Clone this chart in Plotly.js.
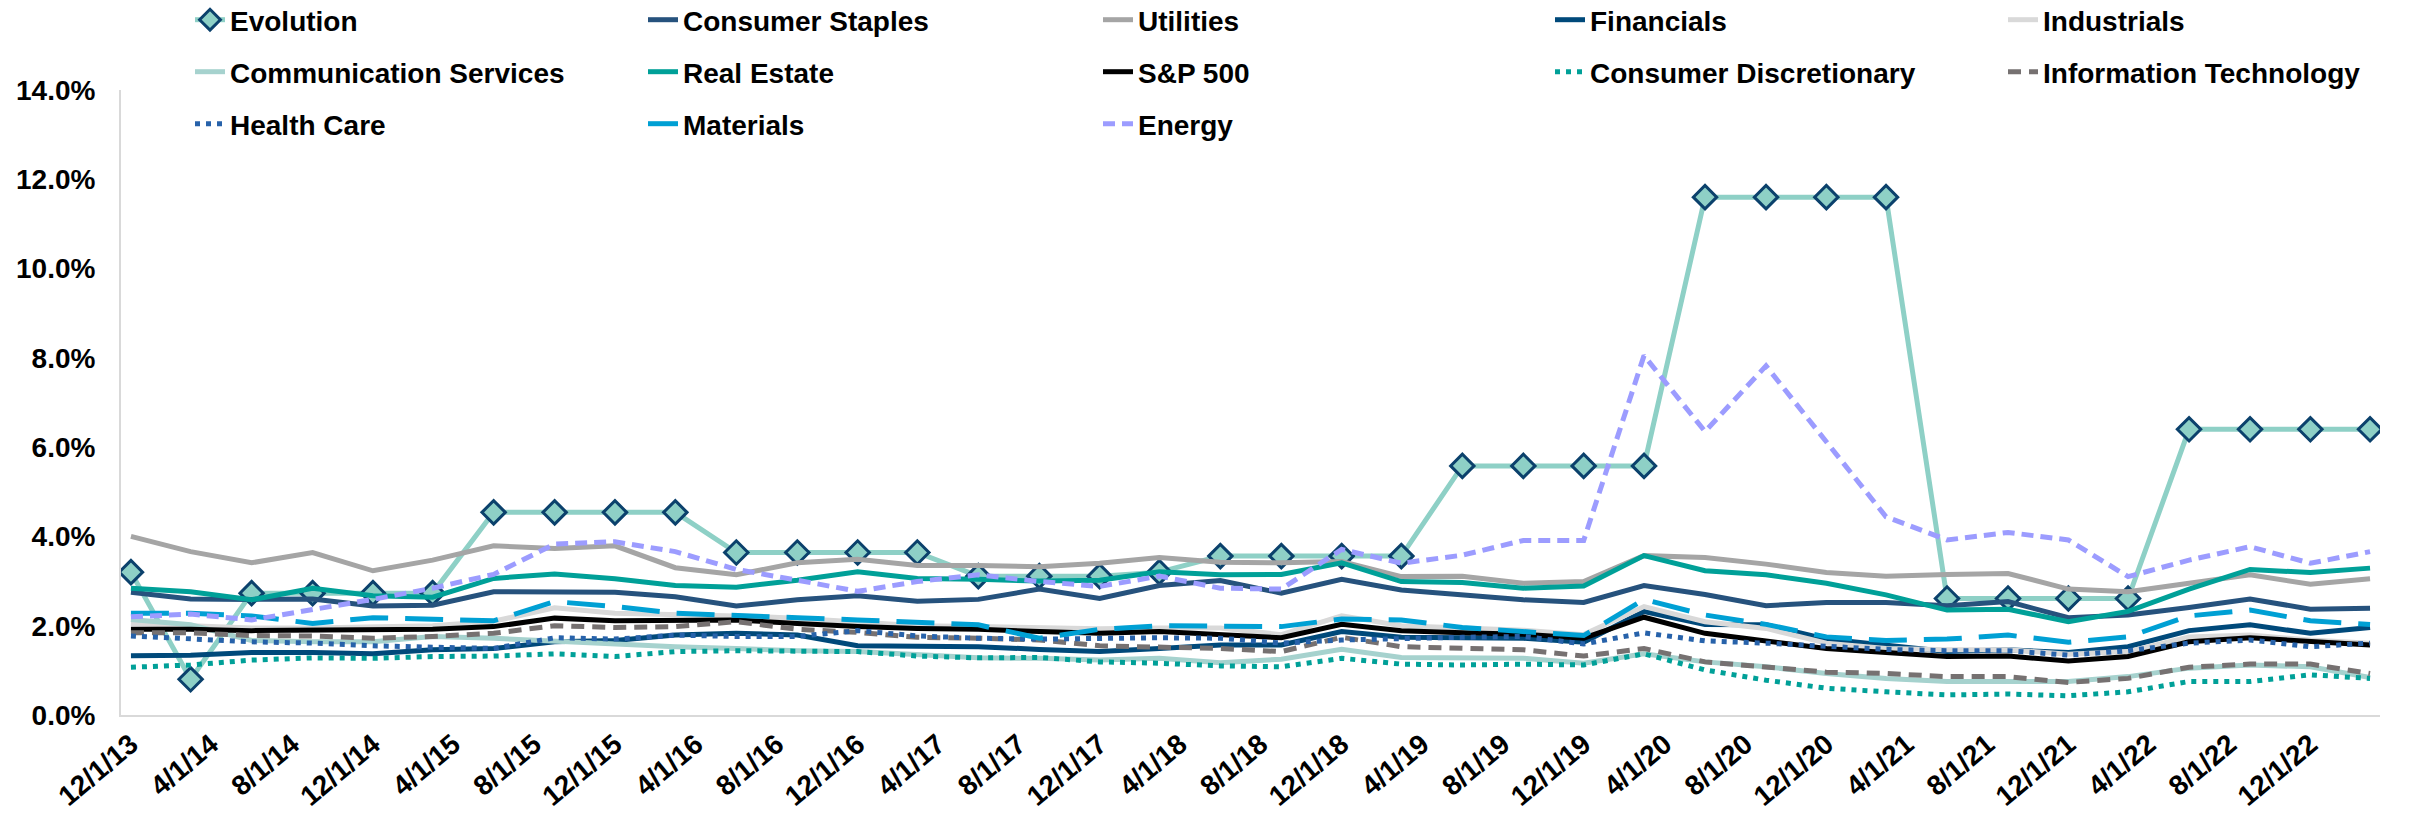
<!DOCTYPE html>
<html>
<head>
<meta charset="utf-8">
<script src="https://cdn.plot.ly/plotly-3.0.1.min.js"></script>
<style>html,body{margin:0;padding:0;background:#fff;}#chart{width:2410px;height:814px;}</style>
</head>
<body>
<div id="chart"></div>
<script>
// Quarterly observation dates
const dates = ['2013-12-01','2014-03-01','2014-06-01','2014-09-01','2014-12-01','2015-03-01','2015-06-01','2015-09-01','2015-12-01','2016-03-01','2016-06-01','2016-09-01','2016-12-01','2017-03-01','2017-06-01','2017-09-01','2017-12-01','2018-03-01','2018-06-01','2018-09-01','2018-12-01','2019-03-01','2019-06-01','2019-09-01','2019-12-01','2020-03-01','2020-06-01','2020-09-01','2020-12-01','2021-03-01','2021-06-01','2021-09-01','2021-12-01','2022-03-01','2022-06-01','2022-09-01','2022-12-01','2023-03-01'];

// Values in percent
const evolution = [3.2,0.8,2.73,2.73,2.73,2.73,4.54,4.54,4.54,4.54,3.64,3.64,3.64,3.64,3.11,3.11,3.11,3.2,3.56,3.56,3.56,3.56,5.58,5.58,5.58,5.58,11.6,11.6,11.6,11.6,2.61,2.61,2.61,2.61,6.4,6.4,6.4,6.4];
const consumerStaples = [2.75,2.60,2.59,2.60,2.44,2.46,2.76,2.76,2.75,2.65,2.44,2.58,2.67,2.55,2.59,2.82,2.61,2.90,3.01,2.73,3.04,2.80,2.69,2.58,2.52,2.90,2.70,2.45,2.52,2.52,2.45,2.54,2.18,2.24,2.41,2.60,2.37,2.39];
const utilities = [4.00,3.66,3.41,3.64,3.23,3.47,3.79,3.73,3.79,3.30,3.14,3.41,3.49,3.35,3.35,3.32,3.40,3.53,3.42,3.41,3.44,3.10,3.11,2.95,2.99,3.57,3.53,3.38,3.19,3.11,3.15,3.17,2.82,2.76,2.95,3.14,2.93,3.05];
const financials = [1.33,1.34,1.40,1.40,1.37,1.46,1.49,1.64,1.67,1.79,1.83,1.79,1.55,1.53,1.53,1.47,1.42,1.49,1.57,1.57,1.87,1.74,1.74,1.72,1.63,2.32,2.03,2.02,1.70,1.55,1.42,1.46,1.40,1.53,1.89,2.02,1.83,1.96];
const industrials = [2.05,2.00,1.95,1.95,1.98,2.00,2.10,2.40,2.28,2.26,2.22,2.17,2.09,2.00,1.98,1.95,1.93,1.95,1.95,1.80,2.22,2.00,1.95,1.90,1.80,2.43,2.09,1.94,1.61,1.49,1.46,1.46,1.36,1.42,1.75,1.79,1.68,1.61];
const communicationServices = [2.14,2.02,1.67,1.64,1.64,1.76,1.72,1.66,1.58,1.53,1.49,1.44,1.42,1.34,1.28,1.27,1.23,1.27,1.17,1.25,1.47,1.29,1.27,1.27,1.16,1.37,1.19,1.08,0.93,0.82,0.75,0.75,0.75,0.86,1.05,1.12,1.08,0.84];
const realEstate = [2.84,2.76,2.58,2.84,2.67,2.64,3.06,3.16,3.05,2.90,2.86,3.02,3.21,3.06,3.04,3.00,3.02,3.21,3.14,3.15,3.41,2.99,2.97,2.84,2.89,3.57,3.23,3.14,2.95,2.69,2.35,2.37,2.09,2.32,2.82,3.26,3.19,3.29];
const sp500 = [1.92,1.92,1.89,1.90,1.89,1.92,1.98,2.17,2.11,2.13,2.13,2.05,1.98,1.94,1.92,1.87,1.83,1.87,1.81,1.73,2.03,1.89,1.84,1.81,1.72,2.19,1.83,1.67,1.49,1.40,1.31,1.32,1.21,1.31,1.64,1.73,1.64,1.57];
const consumerDiscretionary = [1.07,1.12,1.23,1.28,1.27,1.31,1.32,1.37,1.31,1.42,1.44,1.42,1.42,1.32,1.28,1.29,1.19,1.16,1.10,1.08,1.27,1.14,1.12,1.14,1.12,1.37,1.01,0.78,0.60,0.52,0.45,0.47,0.43,0.52,0.75,0.75,0.90,0.82];
const informationTechnology = [1.84,1.84,1.78,1.77,1.72,1.76,1.83,2.00,1.96,1.98,2.09,1.92,1.85,1.74,1.72,1.68,1.55,1.53,1.49,1.42,1.74,1.53,1.49,1.46,1.32,1.49,1.19,1.07,0.96,0.93,0.86,0.86,0.73,0.82,1.07,1.14,1.14,0.93];
const healthCare = [1.77,1.70,1.64,1.61,1.55,1.52,1.49,1.73,1.70,1.79,1.76,1.76,1.89,1.77,1.72,1.70,1.72,1.73,1.72,1.61,1.68,1.72,1.74,1.76,1.59,1.84,1.66,1.61,1.53,1.47,1.44,1.44,1.34,1.44,1.61,1.68,1.53,1.61];
const materials = [2.28,2.28,2.22,2.05,2.18,2.14,2.11,2.54,2.43,2.28,2.24,2.18,2.13,2.07,2.02,1.72,1.92,2.00,1.98,1.98,2.15,2.13,1.96,1.88,1.78,2.59,2.24,2.03,1.75,1.67,1.70,1.79,1.63,1.75,2.22,2.35,2.11,2.03];
const energy = [2.20,2.26,2.13,2.35,2.59,2.84,3.15,3.83,3.88,3.66,3.26,3.02,2.77,2.99,3.14,2.99,2.88,3.11,2.84,2.82,3.71,3.40,3.58,3.91,3.91,8.05,6.35,7.82,6.10,4.44,3.92,4.09,3.92,3.10,3.47,3.77,3.40,3.66];

const yTickVals = [0,2,4,6,8,10,12,14];
const yTickText = ['0.0%','2.0%','4.0%','6.0%','8.0%','10.0%','12.0%','14.0%'];

const FONT = 'Liberation Sans, Arial, sans-serif';
const LW = 5;

// plot-area geometry (pixels) used to place the legend grid
const M = {l: 121, r: 30, t: 90, b: 99};
const PW = 2410 - M.l - M.r, PH = 814 - M.t - M.b;
const colTextX = [230, 683, 1138, 1590, 2043];
const rowY = [20, 72, 124];

const series = [
  {name: 'Evolution', y: evolution, color: '#8ED0C6', dash: 'solid'},
  {name: 'Consumer Staples', y: consumerStaples, color: '#26527D', dash: 'solid'},
  {name: 'Utilities', y: utilities, color: '#A5A5A5', dash: 'solid'},
  {name: 'Financials', y: financials, color: '#00497A', dash: 'solid'},
  {name: 'Industrials', y: industrials, color: '#D9D9D9', dash: 'solid'},
  {name: 'Communication Services', y: communicationServices, color: '#A6D2CE', dash: 'solid'},
  {name: 'Real Estate', y: realEstate, color: '#00A098', dash: 'solid'},
  {name: 'S&P 500', y: sp500, color: '#000000', dash: 'solid'},
  {name: 'Consumer Discretionary', y: consumerDiscretionary, color: '#00A098', dash: '5px,6px'},
  {name: 'Information Technology', y: informationTechnology, color: '#767171', dash: '13px,8px'},
  {name: 'Health Care', y: healthCare, color: '#2762AA', dash: '5px,6px'},
  {name: 'Materials', y: materials, color: '#00A0D4', dash: '38px,17px'},
  {name: 'Energy', y: energy, color: '#9C9CFF', dash: '12px,7px'}
];

const layout = {
  width: 2410, height: 814,
  margin: {l: M.l, r: M.r, t: M.t, b: M.b, pad: 0, autoexpand: false},
  paper_bgcolor: '#ffffff', plot_bgcolor: '#ffffff',
  font: {family: FONT, size: 28, color: '#000', weight: 'bold'},
  showlegend: true,
  xaxis: {
    type: 'date', range: ['2013-11-16', '2023-03-16'],
    tick0: '2013-12-01', dtick: 'M4', tickformat: '%-m/%-d/%y',
    tickangle: -40, showgrid: false, zeroline: false,
    showline: true, linecolor: '#D9D9D9', linewidth: 2, ticks: '',
    tickfont: {family: FONT, size: 28, color: '#000', weight: 'bold'}
  },
  yaxis: {
    range: [0, 14], tickmode: 'array', tickvals: yTickVals, ticktext: yTickText,
    showgrid: false, zeroline: false, showline: true, linecolor: '#D9D9D9', linewidth: 2,
    ticks: '', ticklabelstandoff: 18,
    tickfont: {family: FONT, size: 28, color: '#000', weight: 'bold'}
  }
};

const traces = series.map(function (s, i) {
  const key = i === 0 ? 'legend' : 'legend' + (i + 1);
  const col = i < 5 ? i : (i < 10 ? i - 5 : i - 10);
  const row = i < 5 ? 0 : (i < 10 ? 1 : 2);
  layout[key] = {
    orientation: 'h', xanchor: 'left', yanchor: 'middle',
    x: (colTextX[col] - 40 - M.l) / PW,
    y: (814 - M.b - rowY[row]) / PH,
    bgcolor: 'rgba(0,0,0,0)', borderwidth: 0,
    font: {family: FONT, size: 28, color: '#000', weight: 'bold'}
  };
  const t = {
    type: 'scatter', mode: 'lines', name: s.name, x: dates, y: s.y,
    line: {color: s.color, width: LW, dash: s.dash},
    legend: key
  };
  if (i === 0) {
    t.mode = 'lines+markers';
    t.marker = {symbol: 'diamond', size: 18, color: '#8ED0C6', line: {color: '#0B416C', width: 3}};
  }
  return t;
});

Plotly.newPlot('chart', traces, layout, {displayModeBar: false, responsive: false});
</script>
</body>
</html>
